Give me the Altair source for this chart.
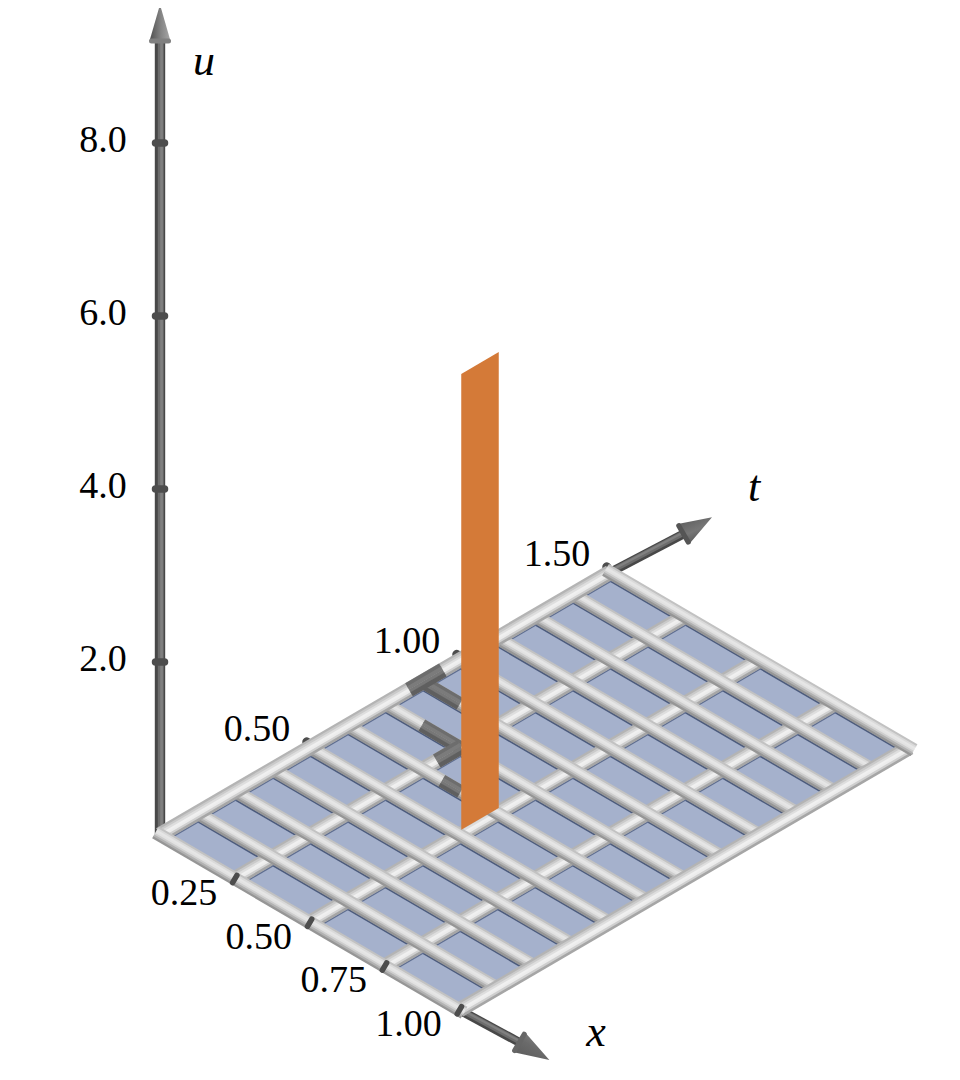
import altair as alt
import pandas as pd

# ---- values ----
x_grid = [0.0, 0.25, 0.5, 0.75, 1.0]
t_grid = [i / 8 for i in range(13)]
x_ticks = [0.25, 0.50, 0.75, 1.00]
t_ticks = [0.50, 1.00, 1.50]
u_ticks = [2.0, 4.0, 6.0, 8.0]
sheet_x = 0.505
sheet_t = [0.5, 0.625]
sheet_u = [0.07, 5.34]
x_axis_end = [1.20, 1.30]
t_axis_end = [1.745, 1.84]
u_axis_end = [9.18, 9.6]
# shadow of the sheet on the rods: (x0, t0, x1, t1)
shadow_rods = [
    (0.0, 0.83, 0.0, 0.943),
    (0.01, 0.875, 0.125, 0.875),
    (0.123, 0.75, 0.253, 0.75),
    (0.25, 0.673, 0.25, 0.753),
    (0.315, 0.625, 0.378, 0.625),
]

W, H = 944, 1064
X = alt.Scale(domain=[8, 8 + W], range=[0, W])
Y = alt.Scale(domain=[8 + H, 8], range=[H, 0])


def proj(x, t, u=0.0):
    return (160 + 299.5 * x + 300 * t, 835 + 175 * x - 175 * t - 86.5 * u)


def enc(**kw):
    return dict(
        x=alt.X("px:Q", scale=X, axis=None),
        y=alt.Y("py:Q", scale=Y, axis=None),
        **kw,
    )


layers = []


def lines(segs, width, color, cap="butt"):
    rows = []
    for i, (a, b) in enumerate(segs):
        rows.append({"px": a[0], "py": a[1], "id": i, "o": 0})
        rows.append({"px": b[0], "py": b[1], "id": i, "o": 1})
    layers.append(
        alt.Chart(pd.DataFrame(rows))
        .mark_line(strokeWidth=width, color=color, strokeCap=cap, clip=False)
        .encode(**enc(detail="id:N", order="o:Q"))
    )


def polygon(points, fill):
    xs = sorted({p[0] for p in points})
    n = len(points)
    rows = []
    for xv in xs:
        ys = []
        for i in range(n):
            a, b = points[i], points[(i + 1) % n]
            lo, hi = min(a[0], b[0]), max(a[0], b[0])
            if lo <= xv <= hi:
                if a[0] == b[0]:
                    ys += [a[1], b[1]]
                else:
                    ys.append(a[1] + (b[1] - a[1]) * (xv - a[0]) / (b[0] - a[0]))
        rows.append({"px": xv, "py": min(ys), "py2": max(ys)})
    layers.append(
        alt.Chart(pd.DataFrame(rows))
        .mark_area(color=fill, clip=False, line=False)
        .encode(
            x=alt.X("px:Q", scale=X, axis=None),
            y=alt.Y("py:Q", scale=Y, axis=None),
            y2="py2:Q",
        )
    )


def shift(p, n, d):
    return (p[0] + n[0] * d, p[1] + n[1] * d)


# unit normals pointing up on screen
N_X = (0.505, -0.863)  # normal of rods running along x
N_T = (-0.504, -0.864)  # normal of rods running along t

# band colours from the far side (+) to the cell side (-)
OFFS = [(4.6, 2.6), (3.0, 2.4), (1.4, 2.4), (-0.2, 2.4), (-1.8, 2.4), (-3.4, 2.4), (-4.8, 2.0)]
X_COLORS = ["#c2c2c2", "#dadada", "#e6e6e6", "#e2e2e2", "#cecece", "#b2b2b2", "#969696"]
T_COLORS = ["#b4b4b4", "#cacaca", "#dedede", "#f0f0f0", "#ececec", "#cfcfcf", "#a6a6a6"]
D_OFFS = [(4.0, 3.6), (1.5, 3.0), (-1.2, 3.0), (-4.0, 3.6)]
D_COLORS = ["#6d6d6d", "#7b7b7b", "#777777", "#5f5f5f"]
KX, KT = 1.15, 1.3


def rods(segs, normal, offs, colors, k):
    for (off, w), c in zip(offs, colors):
        lines(
            [(shift(a, normal, off * k), shift(b, normal, off * k)) for a, b in segs],
            w * k,
            c,
        )


def shaft(a, b, normal, half=4.0):
    lines([(a, b)], half * 2, "#484848")
    lines([(shift(a, normal, half * 0.15), shift(b, normal, half * 0.15))], half * 1.15, "#6c6c6c")
    lines([(shift(a, normal, half * 0.3), shift(b, normal, half * 0.3))], half * 0.5, "#808080")


def cone(base, tip, normal, half, fill, ring):
    polygon([shift(base, normal, half), tip, shift(base, normal, -half)], fill)
    lines([(shift(base, normal, half - 2), shift(base, normal, 2 - half))], 5, ring, "round")


x_rods = [(proj(0, t), proj(1, t)) for t in t_grid]
t_rods = [(proj(x, 0), proj(x, 1.5)) for x in x_grid]

# plate
polygon([proj(0, 0), proj(0, 1.5), proj(1, 1.5), proj(1, 0)], "#a5b1cc")

# thin shadows along the rods on the plate
lines([(shift(a, N_X, -7.2), shift(b, N_X, -7.2)) for a, b in x_rods[1:]], 1.8, "#4c5b7c")
lines([(shift(a, N_T, -8.0), shift(b, N_T, -8.0)) for a, b in t_rods[:-1]], 1.4, "#5f6e90")

# u axis
shaft(proj(0, 0, 0), proj(0, 0, u_axis_end[0]), (1, 0), 5.2)
cone(
    proj(0, 0, u_axis_end[0]),
    proj(0, 0, u_axis_end[1]),
    (1, 0),
    10.5,
    alt.Gradient(
        gradient="linear", x1=0, x2=1, y1=0, y2=0,
        stops=[
            alt.GradientStop(color="#4f4f4f", offset=0),
            alt.GradientStop(color="#858585", offset=0.55),
            alt.GradientStop(color="#a8a8a8", offset=1),
        ],
    ),
    "#808080",
)
lines([(shift(proj(0, 0, u), (1, 0), -4.5), shift(proj(0, 0, u), (1, 0), 4.5)) for u in u_ticks], 7.5, "#4d4d4d", "round")

# t axis + tick rings (rings sit behind the rods)
t_base = proj(0, t_axis_end[0], -0.05)
shaft(proj(0, 1.5), t_base, (-0.47, -0.883), 4.5)
cone(
    t_base,
    proj(0, t_axis_end[1], -0.05),
    (0.5, 0.866),
    11.5,
    alt.Gradient(
        gradient="linear", x1=0.2, x2=0.8, y1=0, y2=1,
        stops=[
            alt.GradientStop(color="#5c5c5c", offset=0),
            alt.GradientStop(color="#777777", offset=0.5),
            alt.GradientStop(color="#4a4a4a", offset=1),
        ],
    ),
    "#555555",
)
lines([(shift(proj(0, t), N_T, 4), shift(proj(0, t), N_T, 6.5)) for t in t_ticks], 9, "#4d4d4d", "round")

# x axis
x_base = proj(x_axis_end[0], 0, 0.03)
shaft(proj(1, 0), x_base, (0.505, -0.863), 4.5)
cone(
    x_base,
    proj(x_axis_end[1], 0, 0.03),
    (0.505, -0.863),
    11.5,
    alt.Gradient(
        gradient="linear", x1=0.9, x2=0.1, y1=0, y2=1,
        stops=[
            alt.GradientStop(color="#8a8a8a", offset=0),
            alt.GradientStop(color="#6a6a6a", offset=0.5),
            alt.GradientStop(color="#5a5a5a", offset=1),
        ],
    ),
    "#666666",
)

# rods: inner ones first, the border on top
rods(t_rods[1:-1], N_T, OFFS, T_COLORS, KT)
rods(x_rods[1:-1], N_X, OFFS, X_COLORS, KX)
rods([t_rods[0], t_rods[-1]], N_T, OFFS, T_COLORS, KT)
rods([(proj(-0.015, t), proj(1.015, t)) for t in (t_grid[0], t_grid[-1])], N_X, OFFS, X_COLORS, KX)

# shadowed rod pieces
rods(
    [(proj(a, b), proj(c, d)) for a, b, c, d in shadow_rods if a != c],
    N_X, D_OFFS, D_COLORS, KX,
)
rods(
    [(proj(a, b), proj(c, d)) for a, b, c, d in shadow_rods if a == c],
    N_T, D_OFFS, D_COLORS, KT,
)

# x tick rings
lines([(shift(proj(x, 0), N_X, -4.5), shift(proj(x, 0), N_X, 4)) for x in x_ticks], 5.5, "#4d4d4d", "round")

# sheet
s0 = proj(sheet_x, sheet_t[0], sheet_u[0])
s1 = proj(sheet_x, sheet_t[1], sheet_u[0])
s2 = proj(sheet_x, sheet_t[1], sheet_u[1])
s3 = proj(sheet_x, sheet_t[0], sheet_u[1])
polygon([s0, s1, s2, s3], "#d47a38")

# text
texts = []
for u in u_ticks:
    p = proj(0, 0, u)
    texts.append({"px": p[0] - 57, "py": p[1] - 2, "s": f"{u:.1f}"})
for t in t_ticks:
    p = proj(0, t)
    texts.append({"px": p[0] - 53, "py": p[1] - 18, "s": f"{t:.2f}"})
for x in x_ticks:
    p = proj(x, 0)
    texts.append({"px": p[0] - 51, "py": p[1] + 15, "s": f"{x:.2f}"})
layers.append(
    alt.Chart(pd.DataFrame(texts))
    .mark_text(font="Liberation Serif", fontSize=38, color="#000000", align="center", baseline="middle", clip=False)
    .encode(**enc(text="s:N"))
)
names = pd.DataFrame(
    [
        {"px": 204, "py": 62, "s": "u"},
        {"px": 754, "py": 488, "s": "t"},
        {"px": 596, "py": 1033, "s": "x"},
    ]
)
layers.append(
    alt.Chart(names)
    .mark_text(font="Liberation Serif", fontSize=44, fontStyle="italic", color="#000000", align="center", baseline="middle", clip=False)
    .encode(**enc(text="s:N"))
)

chart = (
    alt.layer(*layers)
    .properties(width=W, height=H, padding=0, autosize=alt.AutoSizeParams(type="none"))
    .configure_view(stroke=None)
    .configure_legend(disable=True)
)
chart.save("out.html", embed_options={"renderer": "svg", "actions": False})
